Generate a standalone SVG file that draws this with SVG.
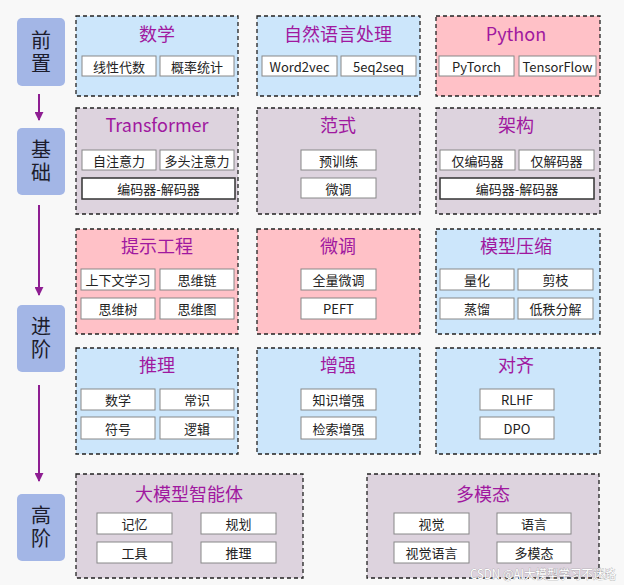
<svg xmlns="http://www.w3.org/2000/svg" width="624" height="585" viewBox="0 0 624 585">
<defs>
<marker id="ah" viewBox="0 0 10 10" refX="9" refY="5" markerWidth="4.5" markerHeight="4.5" orient="auto" markerUnits="strokeWidth">
<path d="M0,0 L10,5 L0,10 z" fill="#8e1e92"/>
</marker>
</defs>
<style>
text{font-family:"Noto Sans CJK SC","Noto Sans",sans-serif;text-anchor:middle;dominant-baseline:central}
.stage rect{fill:#a3b6e6;stroke:none}
.stage text{font-size:20px;fill:#1c1c2c;writing-mode:vertical-rl;letter-spacing:3px}
.grp{stroke:#222;stroke-width:1.3;stroke-dasharray:4 3}
.blue{fill:#cce6fb}
.pink{fill:#ffc1c7}
.mauve{fill:#ddd3de}
.title{font-size:18px;fill:#a0189f}
.sb{fill:#fff;stroke:#888;stroke-width:1}
.sbk{fill:#fff;stroke:#333;stroke-width:1.5}
.st{font-size:13px;fill:#222}
.conn line{stroke:#8e1e92;stroke-width:2;fill:none}
</style>
<rect width="624" height="585" fill="#f8f8f8"/>

<g class="conn" id="connectors">
<line x1="39" y1="94" x2="39" y2="120" marker-end="url(#ah)"/>
<line x1="39" y1="205" x2="39" y2="295" marker-end="url(#ah)"/>
<line x1="39" y1="385" x2="39" y2="481" marker-end="url(#ah)"/>
</g>

<g class="stage" id="s1"><rect x="17" y="18" width="48" height="68" rx="5"/><text x="41" y="53">前置</text></g>
<g class="stage" id="s2"><rect x="17" y="128" width="48" height="67" rx="5"/><text x="41" y="162">基础</text></g>
<g class="stage" id="s3"><rect x="17" y="305" width="48" height="67" rx="5"/><text x="41" y="339">进阶</text></g>
<g class="stage" id="s4"><rect x="17" y="494" width="48" height="67" rx="5"/><text x="41" y="528">高阶</text></g>

<!-- Row 1 -->
<g id="math">
<rect class="grp blue" x="76" y="16" width="162" height="80"/>
<text class="title" x="157" y="33">数学</text>
<rect class="sb" x="82" y="56" width="74" height="20"/><text class="st" x="119" y="66">线性代数</text>
<rect class="sb" x="160" y="56" width="74" height="20"/><text class="st" x="197" y="66">概率统计</text>
</g>
<g id="nlp">
<rect class="grp blue" x="257" y="16" width="163" height="80"/>
<text class="title" x="338" y="33">自然语言处理</text>
<rect class="sb" x="262" y="56" width="75" height="20"/><text class="st" x="299.5" y="66">Word2vec</text>
<rect class="sb" x="341" y="56" width="75" height="20"/><text class="st" x="378.5" y="66">5eq2seq</text>
</g>
<g id="python">
<rect class="grp pink" x="436" y="16" width="164" height="80"/>
<text class="title" x="516" y="33">Python</text>
<rect class="sb" x="439" y="56" width="75" height="20"/><text class="st" x="476.5" y="66">PyTorch</text>
<rect class="sb" x="519" y="56" width="77" height="20"/><text class="st" x="557.5" y="66">TensorFlow</text>
</g>

<!-- Row 2 -->
<g id="transformer">
<rect class="grp mauve" x="76" y="108" width="162" height="106"/>
<text class="title" x="157" y="124">Transformer</text>
<rect class="sb" x="82" y="150" width="74" height="20"/><text class="st" x="119" y="160">自注意力</text>
<rect class="sb" x="160" y="150" width="74" height="20"/><text class="st" x="197" y="160">多头注意力</text>
<rect class="sbk" x="82" y="178" width="153" height="21"/><text class="st" x="158.5" y="188.5">编码器-解码器</text>
</g>
<g id="paradigm">
<rect class="grp mauve" x="257" y="108" width="163" height="106"/>
<text class="title" x="338" y="124">范式</text>
<rect class="sb" x="301" y="150" width="75" height="20"/><text class="st" x="338.5" y="160">预训练</text>
<rect class="sb" x="301" y="178" width="75" height="20"/><text class="st" x="338.5" y="188">微调</text>
</g>
<g id="arch">
<rect class="grp mauve" x="436" y="108" width="164" height="106"/>
<text class="title" x="516" y="124">架构</text>
<rect class="sb" x="440" y="150" width="75" height="20"/><text class="st" x="477.5" y="160">仅编码器</text>
<rect class="sb" x="519" y="150" width="75" height="20"/><text class="st" x="556.5" y="160">仅解码器</text>
<rect class="sbk" x="440" y="178" width="154" height="21"/><text class="st" x="517" y="188.5">编码器-解码器</text>
</g>

<!-- Row 3 -->
<g id="prompt">
<rect class="grp pink" x="76" y="229" width="162" height="105"/>
<text class="title" x="157" y="245">提示工程</text>
<rect class="sb" x="81" y="269" width="74" height="21"/><text class="st" x="118" y="279.5">上下文学习</text>
<rect class="sb" x="160" y="269" width="74" height="21"/><text class="st" x="197" y="279.5">思维链</text>
<rect class="sb" x="81" y="298" width="74" height="21"/><text class="st" x="118" y="308.5">思维树</text>
<rect class="sb" x="160" y="298" width="74" height="21"/><text class="st" x="197" y="308.5">思维图</text>
</g>
<g id="finetune">
<rect class="grp pink" x="257" y="229" width="163" height="105"/>
<text class="title" x="338" y="245">微调</text>
<rect class="sb" x="301" y="269" width="75" height="21"/><text class="st" x="338.5" y="279.5">全量微调</text>
<rect class="sb" x="301" y="298" width="75" height="21"/><text class="st" x="338.5" y="308.5">PEFT</text>
</g>
<g id="compress">
<rect class="grp blue" x="436" y="229" width="164" height="105"/>
<text class="title" x="516" y="245">模型压缩</text>
<rect class="sb" x="440" y="269" width="74" height="21"/><text class="st" x="477" y="279.5">量化</text>
<rect class="sb" x="518" y="269" width="75" height="21"/><text class="st" x="555.5" y="279.5">剪枝</text>
<rect class="sb" x="440" y="298" width="74" height="21"/><text class="st" x="477" y="308.5">蒸馏</text>
<rect class="sb" x="518" y="298" width="75" height="21"/><text class="st" x="555.5" y="308.5">低秩分解</text>
</g>

<!-- Row 4 -->
<g id="reasoning">
<rect class="grp blue" x="76" y="348" width="162" height="106"/>
<text class="title" x="157" y="364">推理</text>
<rect class="sb" x="81" y="389" width="74" height="21"/><text class="st" x="118" y="399.5">数学</text>
<rect class="sb" x="160" y="389" width="74" height="21"/><text class="st" x="197" y="399.5">常识</text>
<rect class="sb" x="81" y="417" width="74" height="22"/><text class="st" x="118" y="428">符号</text>
<rect class="sb" x="160" y="417" width="74" height="22"/><text class="st" x="197" y="428">逻辑</text>
</g>
<g id="augment">
<rect class="grp blue" x="257" y="348" width="163" height="106"/>
<text class="title" x="338" y="364">增强</text>
<rect class="sb" x="301" y="389" width="75" height="21"/><text class="st" x="338.5" y="399.5">知识增强</text>
<rect class="sb" x="301" y="417" width="75" height="22"/><text class="st" x="338.5" y="428">检索增强</text>
</g>
<g id="align">
<rect class="grp blue" x="436" y="348" width="164" height="106"/>
<text class="title" x="516" y="364">对齐</text>
<rect class="sb" x="480" y="389" width="74" height="21"/><text class="st" x="517" y="399.5">RLHF</text>
<rect class="sb" x="480" y="417" width="74" height="22"/><text class="st" x="517" y="428">DPO</text>
</g>

<!-- Row 5 -->
<g id="agent">
<rect class="grp mauve" x="76" y="474" width="227" height="104"/>
<text class="title" x="189" y="493">大模型智能体</text>
<rect class="sb" x="97" y="513" width="75" height="21"/><text class="st" x="134.5" y="523.5">记忆</text>
<rect class="sb" x="201" y="513" width="75" height="21"/><text class="st" x="238.5" y="523.5">规划</text>
<rect class="sb" x="97" y="542" width="75" height="21"/><text class="st" x="134.5" y="552.5">工具</text>
<rect class="sb" x="201" y="542" width="75" height="21"/><text class="st" x="238.5" y="552.5">推理</text>
</g>
<g id="multimodal">
<rect class="grp mauve" x="367" y="474" width="232" height="104"/>
<text class="title" x="483" y="493">多模态</text>
<rect class="sb" x="394" y="513" width="75" height="21"/><text class="st" x="431.5" y="523.5">视觉</text>
<rect class="sb" x="497" y="513" width="74" height="21"/><text class="st" x="534" y="523.5">语言</text>
<rect class="sb" x="394" y="542" width="75" height="21"/><text class="st" x="431.5" y="552.5">视觉语言</text>
<rect class="sb" x="497" y="542" width="74" height="21"/><text class="st" x="534" y="552.5">多模态</text>
</g>

<text x="470" y="573" textLength="146" lengthAdjust="spacingAndGlyphs" style="text-anchor:start;font-size:12.5px;fill:#fff;stroke:#999;stroke-width:0.6;paint-order:stroke">CSDN @AI大模型学习不迷路</text>
</svg>
